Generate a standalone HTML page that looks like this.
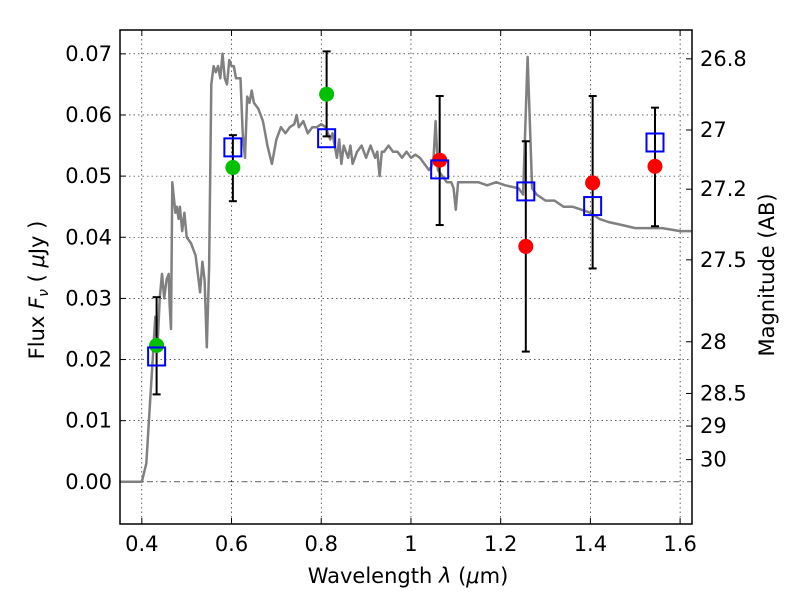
<!DOCTYPE html>
<html><head><meta charset="utf-8">
<style>
html,body{margin:0;padding:0;background:#fff;}
svg text{font-family:"DejaVu Sans","Liberation Sans",sans-serif;fill:#000;}
</style></head>
<body>
<svg id="chart" width="800" height="600" viewBox="0 0 800 600"></svg>
<script>
const xTicks=[0.4,0.6,0.8,1.0,1.2,1.4,1.6];
const xTickLabels=["0.4","0.6","0.8","1","1.2","1.4","1.6"];
const yTicks=[0,0.01,0.02,0.03,0.04,0.05,0.06,0.07];
const yTickLabels=["0.00","0.01","0.02","0.03","0.04","0.05","0.06","0.07"];
const magTicks=[26.8,27,27.2,27.5,28,28.5,29,30];
const magTickLabels=["26.8","27","27.2","27.5","28","28.5","29","30"];
const specWave=[0.35,0.40,0.41,0.42,0.43,0.435,0.44,0.445,0.45,0.455,0.46,0.462,0.465,0.468,0.475,0.478,0.482,0.485,0.49,0.495,0.50,0.51,0.52,0.53,0.535,0.54,0.545,0.55,0.555,0.56,0.565,0.57,0.575,0.58,0.585,0.59,0.595,0.60,0.605,0.61,0.62,0.625,0.63,0.635,0.64,0.645,0.65,0.66,0.67,0.675,0.68,0.69,0.70,0.71,0.72,0.73,0.74,0.745,0.75,0.76,0.77,0.78,0.79,0.80,0.81,0.82,0.825,0.83,0.835,0.84,0.845,0.85,0.86,0.865,0.87,0.88,0.89,0.90,0.905,0.91,0.92,0.925,0.93,0.935,0.94,0.95,0.96,0.97,0.98,0.99,1.0,1.01,1.02,1.03,1.04,1.045,1.05,1.055,1.06,1.08,1.09,1.095,1.10,1.105,1.12,1.15,1.17,1.19,1.21,1.24,1.25,1.26,1.27,1.28,1.30,1.32,1.34,1.36,1.38,1.40,1.42,1.44,1.47,1.50,1.53,1.56,1.60,1.625];
const specFlux=[0,0,0.003,0.015,0.027,0.022,0.03,0.034,0.03,0.033,0.034,0.029,0.025,0.049,0.044,0.045,0.043,0.045,0.041,0.044,0.040,0.039,0.037,0.031,0.036,0.033,0.022,0.035,0.065,0.068,0.067,0.068,0.066,0.070,0.066,0.065,0.069,0.068,0.068,0.066,0.066,0.057,0.053,0.063,0.062,0.064,0.062,0.061,0.059,0.057,0.055,0.052,0.056,0.058,0.057,0.058,0.0585,0.060,0.058,0.059,0.057,0.058,0.058,0.0585,0.058,0.056,0.057,0.055,0.053,0.056,0.052,0.055,0.053,0.055,0.052,0.054,0.055,0.053,0.054,0.055,0.053,0.054,0.050,0.054,0.054,0.055,0.054,0.054,0.053,0.054,0.053,0.0535,0.053,0.052,0.051,0.0515,0.0525,0.059,0.051,0.049,0.049,0.048,0.0445,0.049,0.049,0.049,0.0485,0.049,0.0485,0.048,0.047,0.0695,0.048,0.047,0.046,0.046,0.045,0.045,0.0445,0.044,0.043,0.0425,0.042,0.0415,0.0415,0.0415,0.041,0.041];
const greenWave=[0.433,0.603,0.812];
const greenFlux=[0.0223,0.0514,0.0634];
const redWave=[1.064,1.256,1.405,1.544];
const redFlux=[0.0526,0.0385,0.0489,0.0516];
const modelWave=[0.433,0.603,0.812,1.064,1.256,1.405,1.544];
const modelFlux=[0.0205,0.0547,0.0562,0.0511,0.0475,0.0451,0.0555];
const errLow=[0.0143,0.0459,0.0565,0.042,0.0213,0.0349,0.0418];
const errHigh=[0.0302,0.0567,0.0704,0.0631,0.0557,0.0631,0.0612];

const L=120,R=692,T=30,B=524;
const xMin=0.3514,xMax=1.6265,yMin=-0.0069,yMax=0.0739;
const sx=v=>L+(v-xMin)/(xMax-xMin)*(R-L);
const sy=v=>B-(v-yMin)/(yMax-yMin)*(B-T);
const svg=document.getElementById('chart');
const NS='http://www.w3.org/2000/svg';
function mk(tag,attrs,parent){const e=document.createElementNS(NS,tag);for(const k in attrs)e.setAttribute(k,attrs[k]);(parent||svg).appendChild(e);return e;}

xTicks.forEach((t,i)=>{
  const g=mk('line',{x1:sx(t),x2:sx(t),y1:T,y2:B,stroke:'#000','stroke-width':0.6,'stroke-dasharray':'1.5,3'});
  
  
  const tk=mk('line',{x1:sx(t),x2:sx(t),y1:B,y2:B-6,stroke:'#000','stroke-width':1});
  
  
  mk('line',{x1:sx(t),x2:sx(t),y1:T,y2:T+6,stroke:'#000','stroke-width':1});
  const tx=mk('text',{x:sx(t),y:B+27,'text-anchor':'middle','font-size':21});
  tx.textContent=xTickLabels[i];
  
  
});
yTicks.forEach((t,i)=>{
  const g=mk('line',{x1:L,x2:R,y1:sy(t),y2:sy(t),stroke:'#000','stroke-width':0.6,'stroke-dasharray':t===0?'6,3,1.5,3':'1.5,3'});
  
  
  mk('line',{x1:L,x2:L+6,y1:sy(t),y2:sy(t),stroke:'#000','stroke-width':1});
  const tx=mk('text',{x:L-8,y:sy(t)+7,'text-anchor':'end','font-size':21});
  tx.textContent=yTickLabels[i];
  
  
});
magTicks.forEach((m,i)=>{
  const f=Math.pow(10,(23.9-m)/2.5);
  const y=sy(f);
  mk('line',{x1:R,x2:R-6,y1:y,y2:y,stroke:'#000','stroke-width':1});
  const tx=mk('text',{x:R+8,y:y+7,'text-anchor':'start','font-size':21});
  tx.textContent=magTickLabels[i];
  
  
});

let d='';
specWave.forEach((w,i)=>{d+=(i?'L':'M')+sx(w).toFixed(1)+','+sy(specFlux[i]).toFixed(1);});
const sp=mk('path',{d:d,fill:'none',stroke:'#808080','stroke-width':2.5,'stroke-linejoin':'round'});



modelWave.forEach((w,i)=>{
  const x=sx(w),y1=sy(errLow[i]),y2=sy(errHigh[i]);
  const g=mk('g',{stroke:'#000','stroke-width':2});
  
  
  mk('line',{x1:x,x2:x,y1:y1,y2:y2},g);
  mk('line',{x1:x-4,x2:x+4,y1:y1,y2:y1},g);
  mk('line',{x1:x-4,x2:x+4,y1:y2,y2:y2},g);
});
greenWave.forEach((w,i)=>{
  const c=mk('circle',{cx:sx(w),cy:sy(greenFlux[i]),r:7.5,fill:'#00c000'});
  
  
});
redWave.forEach((w,i)=>{
  const c=mk('circle',{cx:sx(w),cy:sy(redFlux[i]),r:7.5,fill:'#ff0000'});
  
  
});
modelWave.forEach((w,i)=>{
  const r=mk('rect',{x:sx(w)-8.5,y:sy(modelFlux[i])-9,width:17,height:18,fill:'none',stroke:'#0000ff','stroke-width':2});
  
  
});

const fr=mk('rect',{x:L,y:T,width:R-L,height:B-T,fill:'none',stroke:'#000','stroke-width':1.5});



const xl=mk('text',{x:(L+R)/2+2,y:583,'text-anchor':'middle','font-size':21});
xl.innerHTML='Wavelength  <tspan font-style="italic">λ</tspan> (<tspan font-style="italic">μ</tspan>m)';


const yl=mk('text',{x:0,y:0,'text-anchor':'middle','font-size':21,transform:'translate(44,'+((T+B)/2+13)+') rotate(-90)'});
yl.innerHTML='Flux  <tspan font-style="italic">F</tspan><tspan font-style="italic" font-size="14" dy="4">ν</tspan><tspan dy="-4">  (  </tspan><tspan font-style="italic">μ</tspan>Jy )';


const ml=mk('text',{x:0,y:0,'text-anchor':'middle','font-size':21,transform:'translate(774,'+((T+B)/2-2)+') rotate(-90)'});
ml.textContent='Magnitude (AB)';


</script>
</body></html>
